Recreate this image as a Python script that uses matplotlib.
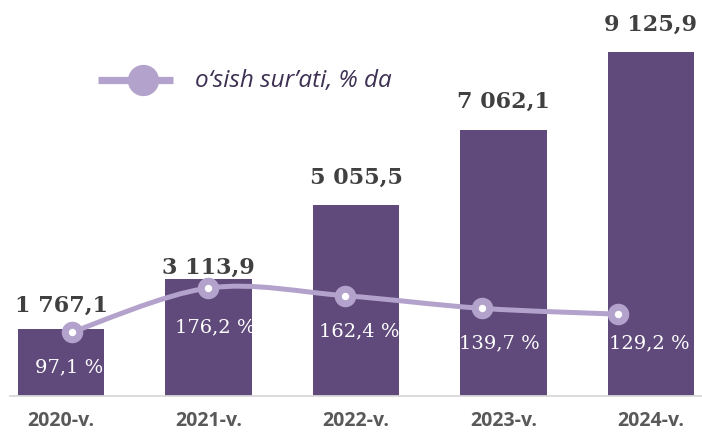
import matplotlib
matplotlib.use("Agg")
import matplotlib.pyplot as plt
from matplotlib.path import Path
from matplotlib.patches import PathPatch
from matplotlib.lines import Line2D
import numpy as np

# ---- data ----
years = ["2020-v.", "2021-v.", "2022-v.", "2023-v.", "2024-v."]
volumes = [1767.1, 3113.9, 5055.5, 7062.1, 9125.9]
volume_labels = ["1 767,1", "3 113,9", "5 055,5", "7 062,1", "9 125,9"]
growth = [97.1, 176.2, 162.4, 139.7, 129.2]
growth_labels = ["97,1 %", "176,2 %", "162,4 %", "139,7 %", "129,2 %"]
legend_label = "o\u2018sish sur\u2019ati, % da"

# ---- style ----
BAR_COLOR = "#5f4a7b"
LINE_COLOR = "#b3a2cb"
VAL_COLOR = "#404040"
TICK_COLOR = "#595959"
LEG_TEXT = "#3d3052"

W, H = 702, 432
fig = plt.figure(figsize=(W / 100, H / 100), dpi=100)
rect = [10 / W, 36 / H, 692 / W, 396 / H]

ax = fig.add_axes(rect)
x = np.arange(len(years))
ax.bar(x, volumes, width=0.585, color=BAR_COLOR, zorder=2)
ax.set_xlim(-0.346, 4.346)
ax.set_ylim(0, 10504)
for s in ["top", "right", "left"]:
    ax.spines[s].set_visible(False)
ax.spines["bottom"].set_color("#d9d9d9")
ax.spines["bottom"].set_linewidth(1.3)
ax.set_yticks([])
ax.set_xticks(x)
ax.set_xticklabels(years, fontsize=14, fontweight="bold", color=TICK_COLOR,
                   family="Open Sans")
ax.tick_params(axis="x", length=0, pad=11)

val_offsets_px = [18, 5, 22, 22, 21]
for i, (v, lab) in enumerate(zip(volumes, volume_labels)):
    ax.annotate(lab, (i, v), xytext=(0, val_offsets_px[i] * 0.72),
                textcoords="offset points", ha="center", va="baseline",
                fontsize=16, fontweight="bold", color=VAL_COLOR,
                family="DejaVu Serif", zorder=5)

# ---- growth line on its own overlay axes ----
ax2 = fig.add_axes(rect)
ax2.set_xlim(-0.454, 4.615)
ax2.set_ylim(-18.0, 694.2)
ax2.axis("off")
ax2.patch.set_alpha(0)

pts = np.column_stack([x, growth]).astype(float)
verts = [tuple(pts[0])]
codes = [Path.MOVETO]
n = len(pts)
for i in range(n - 1):
    p0 = pts[max(i - 1, 0)]
    p1 = pts[i]
    p2 = pts[i + 1]
    p3 = pts[min(i + 2, n - 1)]
    c1 = p1 + (p2 - p0) / 6.0
    c2 = p2 - (p3 - p1) / 6.0
    verts += [tuple(c1), tuple(c2), tuple(p2)]
    codes += [Path.CURVE4] * 3
path = Path(verts, codes)
ax2.add_patch(PathPatch(path, facecolor="none", edgecolor=LINE_COLOR,
                        lw=3.6, capstyle="round", zorder=3))
ax2.plot(x, growth, ls="none", marker="o", ms=14.5, mfc=LINE_COLOR,
         mec=LINE_COLOR, zorder=4)
ax2.plot(x, growth, ls="none", marker="o", ms=4.3, mfc="white",
         mec="white", zorder=5)

pct_offsets_px = [(-3, -35), (7, -39), (14, -36), (18, -35), (31, -29)]
for i, (g, lab) in enumerate(zip(growth, growth_labels)):
    dx, dy = pct_offsets_px[i]
    ax2.annotate(lab, (i, g), xytext=(dx * 0.72, dy * 0.72),
                 textcoords="offset points", ha="center", va="center",
                 fontsize=14, color="white", family="DejaVu Serif", zorder=6)

# ---- legend (drawn manually) ----
fig.add_artist(Line2D([98 / W, 173 / W], [1 - 80 / H, 1 - 80 / H],
                      color=LINE_COLOR, lw=5.2, solid_capstyle="butt"))
fig.add_artist(Line2D([143 / W], [1 - 80 / H], marker="o", ms=21.5,
                      mfc=LINE_COLOR, mec=LINE_COLOR, ls="none"))
fig.text(195 / W, 1 - 81 / H, legend_label, fontsize=17.5, style="italic",
         color=LEG_TEXT, family="Open Sans", va="center", ha="left")

fig.savefig("out.png", dpi=100)
